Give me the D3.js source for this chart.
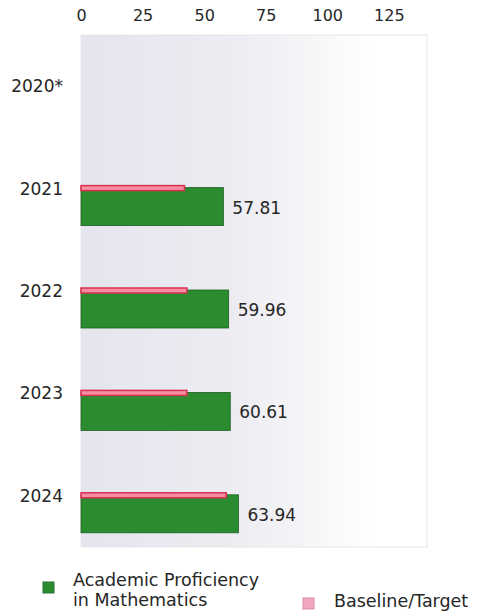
<!DOCTYPE html>
<html>
<head>
<meta charset="utf-8">
<script src="https://cdn.jsdelivr.net/npm/d3@7"></script>
<style>
  body { margin: 0; background: #fff; }
  text { font-family: "DejaVu Sans", sans-serif; fill: #262626; }
</style>
</head>
<body>
<svg id="chart"></svg>
<script>
const years = ['2020*', '2021', '2022', '2023', '2024'];
const proficiency = [null, 57.81, 59.96, 60.61, 63.94];
const baseline = [null, 42, 43, 43, 59];
const ticks = [0, 25, 50, 75, 100, 125];

const W = 482, H = 615;
const margin = {top: 35, right: 55, bottom: 68, left: 81};
const width = W - margin.left - margin.right;
const height = H - margin.top - margin.bottom;

const svg = d3.select('#chart').attr('width', W).attr('height', H);

const defs = svg.append('defs');
const grad = defs.append('linearGradient').attr('id', 'bg')
    .attr('x1', '0%').attr('x2', '100%').attr('y1', '0%').attr('y2', '0%');
grad.append('stop').attr('offset', '0%').attr('stop-color', '#e5e5ee');
grad.append('stop').attr('offset', '45%').attr('stop-color', '#ececf2');
grad.append('stop').attr('offset', '85%').attr('stop-color', '#ffffff');
grad.append('stop').attr('offset', '100%').attr('stop-color', '#ffffff');

const g = svg.append('g')
    .attr('transform', 'translate(' + margin.left + ',' + margin.top + ')');

g.append('rect')
    .attr('width', width).attr('height', height)
    .attr('fill', 'url(#bg)')
    .attr('stroke', '#e8e8e8');

const x = d3.scaleLinear().domain([0, 140.5]).range([0, width]);
const y = d3.scaleBand().domain(years).range([0, height]);

// top axis
const xAxis = g.append('g')
    .call(d3.axisTop(x).tickValues(ticks).tickSize(0).tickPadding(14));
xAxis.select('.domain').remove();
xAxis.selectAll('text').style('font-size', '16px').attr('fill', '#262626');

// left axis
const yAxis = g.append('g')
    .call(d3.axisLeft(y).tickSize(0).tickPadding(18));
yAxis.select('.domain').remove();
yAxis.selectAll('text').style('font-size', '17px').attr('fill', '#262626')
    .attr('dy', '0.35em');

const data = years.map((yr, i) => ({year: yr, value: proficiency[i], base: baseline[i]}))
    .filter(d => d.value != null);

const mid = d => y(d.year) + y.bandwidth() / 2;

g.selectAll('.bar')
  .data(data)
  .enter().append('rect')
    .attr('class', 'bar')
    .attr('x', 0)
    .attr('y', d => mid(d) - 1)
    .attr('width', d => x(d.value))
    .attr('height', 38)
    .attr('fill', '#2b8c2f')
    .attr('stroke', '#1e5e22')
    .attr('stroke-width', 0.8);

g.selectAll('.base')
  .data(data)
  .enter().append('rect')
    .attr('class', 'base')
    .attr('x', 0)
    .attr('y', d => mid(d) - 3)
    .attr('width', d => x(d.base))
    .attr('height', 5)
    .attr('fill', '#f58ea2')
    .attr('stroke', '#d92f50')
    .attr('stroke-width', 1.5);

g.selectAll('.val')
  .data(data)
  .enter().append('text')
    .attr('class', 'val')
    .attr('x', d => x(d.value) + 9)
    .attr('y', d => mid(d) + 19)
    .attr('dy', '0.35em')
    .style('font-size', '17px')
    .text(d => d.value.toFixed(2));

// legend
const leg = svg.append('g');
leg.append('rect').attr('x', 43).attr('y', 582).attr('width', 11).attr('height', 11)
    .attr('fill', '#2b8c2f').attr('stroke', '#2a6e3a');
leg.append('text').attr('x', 73).attr('y', 586).style('font-size', '17.5px')
    .text('Academic Proficiency');
leg.append('text').attr('x', 73).attr('y', 606).style('font-size', '17.5px')
    .text('in Mathematics');
leg.append('rect').attr('x', 303).attr('y', 598).attr('width', 11).attr('height', 11)
    .attr('fill', '#f4a6bf').attr('stroke', '#d98aa5');
leg.append('text').attr('x', 334).attr('y', 607).style('font-size', '17.5px')
    .text('Baseline/Target');
</script>
</body>
</html>
